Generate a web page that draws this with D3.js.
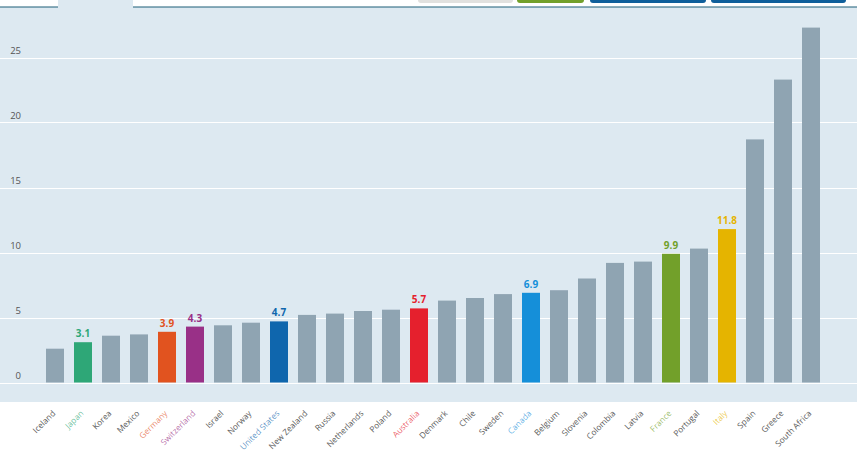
<!DOCTYPE html>
<html>
<head>
<meta charset="utf-8">
<script src="https://cdn.jsdelivr.net/npm/d3@7"></script>
<style>
  body { margin: 0; background: #fff; }
  svg { display: block; font-family: "Open Sans", "Noto Sans", sans-serif; }
</style>
</head>
<body>
<div id="chart"></div>
<script>
// data
const countries = ['Iceland', 'Japan', 'Korea', 'Mexico', 'Germany', 'Switzerland', 'Israel', 'Norway',
  'United States', 'New Zealand', 'Russia', 'Netherlands', 'Poland', 'Australia', 'Denmark', 'Chile',
  'Sweden', 'Canada', 'Belgium', 'Slovenia', 'Colombia', 'Latvia', 'France', 'Portugal', 'Italy',
  'Spain', 'Greece', 'South Africa'];
const values = [2.6, 3.1, 3.6, 3.7, 3.9, 4.3, 4.4, 4.6, 4.7, 5.2, 5.3, 5.5, 5.6, 5.7, 6.3, 6.5,
  6.8, 6.9, 7.1, 8.0, 9.2, 9.3, 9.9, 10.3, 11.8, 18.7, 23.3, 27.3];
const yTicks = [0, 5, 10, 15, 20, 25];

// highlighted countries
const highlight = {
  'Japan': '#2ea777',
  'Germany': '#e1531f',
  'Switzerland': '#993087',
  'United States': '#0f66ad',
  'Australia': '#e5202d',
  'Canada': '#158fd9',
  'France': '#72a02a',
  'Italy': '#e5b400'
};
const greyBar = '#8fa4b2';

const data = countries.map((c, i) => ({ country: c, value: values[i] }));

const width = 863, height = 451;
const panel = { left: 0, right: 857, top: 7, bottom: 402 };

const svg = d3.select('#chart').append('svg')
  .attr('width', width).attr('height', height);

// panel background
svg.append('rect')
  .attr('x', panel.left).attr('y', panel.top)
  .attr('width', panel.right - panel.left).attr('height', panel.bottom - panel.top)
  .attr('fill', '#dde9f1');

// tab on top left
svg.append('rect').attr('x', 58).attr('y', 0).attr('width', 75).attr('height', 8)
  .attr('fill', '#dde9f1');
// top border line with gap for the tab
svg.append('line').attr('x1', 0).attr('x2', 58).attr('y1', 7).attr('y2', 7)
  .attr('stroke', '#1d5f78').attr('stroke-width', 1.2);
svg.append('line').attr('x1', 133).attr('x2', panel.right).attr('y1', 7).attr('y2', 7)
  .attr('stroke', '#1d5f78').attr('stroke-width', 1.2);

// buttons peeking at the top
const buttons = [
  { x: 418, w: 95, c: '#e1e1df' },
  { x: 517, w: 67, c: '#72a02a' },
  { x: 590, w: 116, c: '#0f5f9b' },
  { x: 711, w: 135, c: '#0f5f9b' }
];
svg.selectAll('.btn').data(buttons).join('rect').attr('class', 'btn')
  .attr('x', d => d.x).attr('y', -5).attr('width', d => d.w).attr('height', 8)
  .attr('rx', 3).attr('fill', d => d.c);

// scales
const x = d3.scaleBand().domain(countries).range([32, 834])
  .paddingInner(10 / 28).paddingOuter(0.5);
const y = d3.scaleLinear().domain([0, 25]).range([382.5, 57.5]);

// gridlines
const grid = svg.append('g').attr('class', 'grid');
grid.selectAll('line').data(yTicks).join('line')
  .attr('x1', panel.left).attr('x2', panel.right)
  .attr('y1', d => Math.round(y(d)) + 0.5).attr('y2', d => Math.round(y(d)) + 0.5)
  .attr('stroke', '#ffffff').attr('stroke-width', 1);

// y labels sit just above the gridlines
grid.selectAll('text').data(yTicks).join('text')
  .attr('x', 21).attr('y', d => y(d) - 3.5)
  .attr('text-anchor', 'end')
  .attr('font-size', 9.5).attr('fill', '#555')
  .text(d => d);

// bars
svg.append('g').selectAll('rect').data(data).join('rect')
  .attr('x', d => x(d.country))
  .attr('y', d => y(d.value))
  .attr('width', x.bandwidth())
  .attr('height', d => y(0) - y(d.value))
  .attr('fill', d => highlight[d.country] || greyBar);

// value labels for highlighted bars
svg.append('g').selectAll('text').data(data.filter(d => highlight[d.country])).join('text')
  .attr('x', d => x(d.country) + x.bandwidth() / 2)
  .attr('y', d => y(d.value) - 5)
  .attr('text-anchor', 'middle')
  .attr('font-size', 10).attr('font-weight', 'bold')
  .attr('fill', d => highlight[d.country])
  .text(d => d.value.toFixed(1));

// x labels, rotated
svg.append('g').selectAll('text').data(countries).join('text')
  .attr('transform', d => `translate(${x(d) + x.bandwidth() / 2 + 1},${414}) rotate(-45)`)
  .attr('text-anchor', 'end')
  .attr('font-size', 8.3)
  .attr('fill', d => highlight[d] || '#5a5a5a')
  .attr('fill-opacity', d => highlight[d] ? 0.7 : 1)
  .text(d => d);
</script>
</body>
</html>
